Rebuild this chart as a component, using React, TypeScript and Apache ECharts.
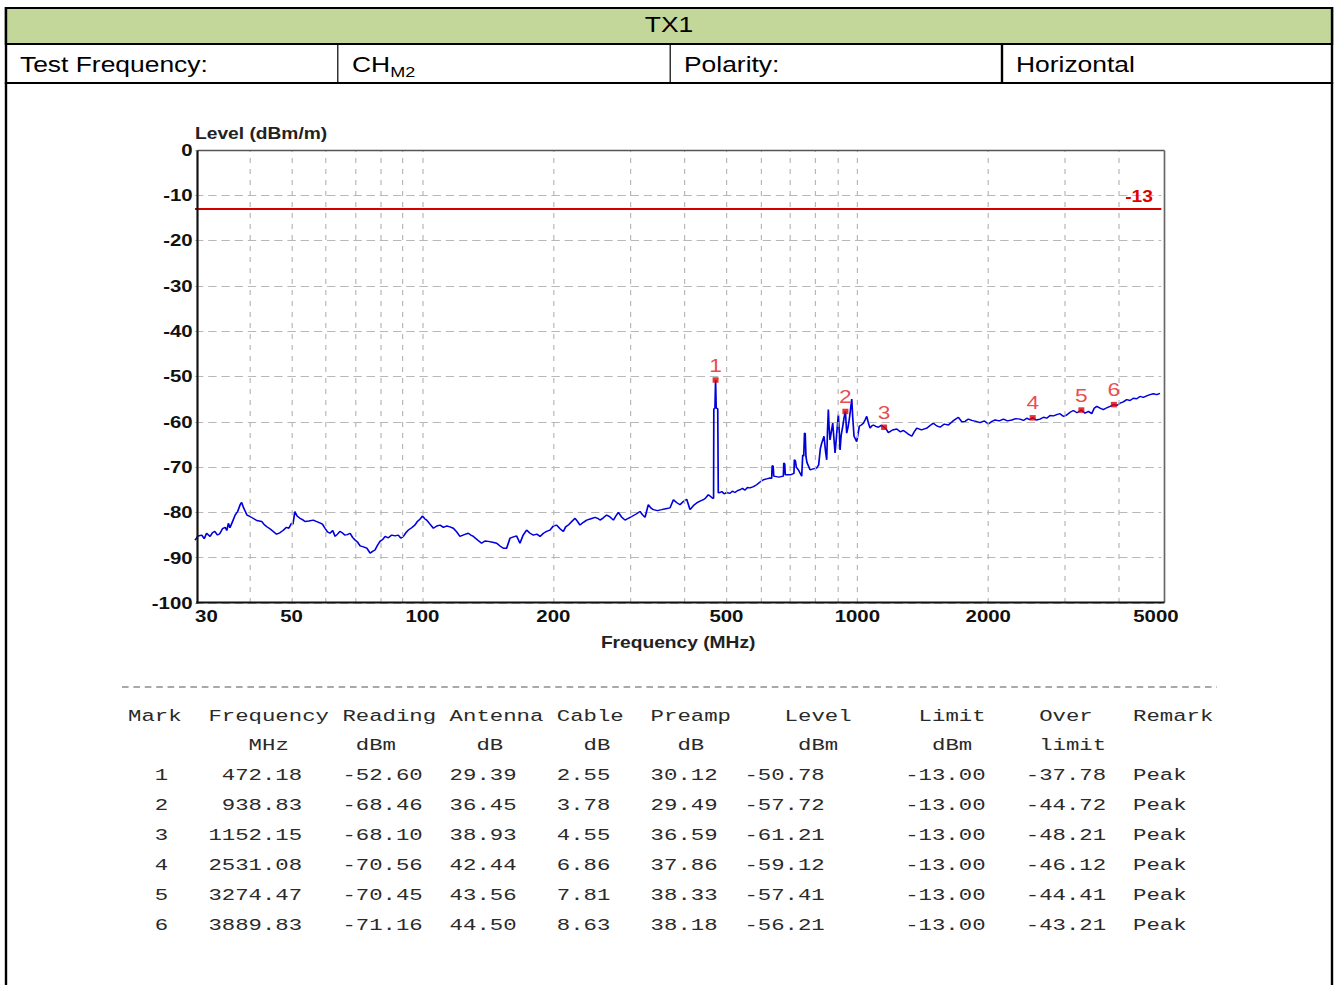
import React, { useEffect, useRef } from 'react';
import * as echarts from 'echarts';

// ---- measurement data -------------------------------------------------------

// Peak-hold sweep, [frequency MHz, level dBm]
const sweep: [number, number][] = [
  [30.0, -86.1], [30.5, -85.2], [31.1, -85.0], [31.5, -85.8], [31.9, -84.6], [32.5, -85.3],
  [32.9, -84.5], [33.3, -84.2], [33.8, -85.0], [34.2, -84.7], [34.7, -83.6], [35.2, -83.3],
  [35.5, -84.0], [35.8, -82.4], [36.1, -83.4], [36.6, -82.0], [37.1, -80.6], [37.6, -79.8],
  [38.1, -78.3], [38.4, -77.8], [38.8, -79.0], [39.5, -80.6], [40.1, -80.9], [40.8, -81.3],
  [41.6, -81.8], [42.7, -82.0], [43.2, -82.6], [43.8, -83.1], [44.6, -83.6], [45.4, -84.2],
  [46.2, -84.8], [47.0, -84.5], [47.8, -84.0], [48.7, -83.3], [49.3, -83.5], [50.0, -82.4],
  [50.4, -82.6], [50.9, -79.8], [51.5, -80.8], [52.3, -81.3], [53.0, -81.6], [53.7, -82.0],
  [54.8, -81.9], [56.1, -81.7], [57.0, -82.0], [58.1, -82.3], [58.9, -82.6], [59.7, -83.5],
  [60.5, -84.3], [61.3, -84.6], [62.2, -84.0], [63.0, -85.3], [63.8, -84.8], [64.6, -84.2],
  [65.4, -84.5], [66.3, -85.0], [67.2, -84.9], [68.2, -84.6], [69.1, -85.5], [70.0, -86.1],
  [71.0, -86.6], [71.9, -87.4], [73.2, -87.6], [74.5, -87.9], [75.1, -88.4], [75.8, -89.0],
  [76.8, -88.6], [77.8, -88.3], [78.9, -87.2], [79.9, -86.4], [81.0, -86.0], [82.1, -85.3],
  [83.5, -85.6], [85.0, -85.0], [86.5, -85.2], [88.0, -85.0], [89.2, -85.7], [90.4, -85.3],
  [91.6, -84.5], [92.8, -83.9], [94.5, -83.4], [96.1, -82.8], [97.4, -82.0], [98.7, -81.5],
  [100.1, -80.8], [101.2, -81.4], [102.3, -81.7], [104.1, -82.6], [106.0, -83.5], [107.9, -83.0],
  [109.8, -82.8], [111.8, -83.3], [113.8, -83.0], [115.7, -83.2], [117.8, -83.5], [119.9, -84.3],
  [122.0, -85.3], [124.8, -84.9], [127.5, -84.6], [129.2, -85.0], [131.0, -85.3], [133.9, -86.1],
  [136.8, -86.8], [139.2, -86.3], [141.7, -86.4], [145.0, -86.6], [148.2, -86.8], [150.8, -87.4],
  [153.5, -87.9], [156.2, -87.9], [159.0, -85.7], [162.0, -85.4], [164.7, -85.2], [167.6, -86.8],
  [170.5, -85.0], [173.6, -83.9], [176.8, -84.6], [180.0, -85.0], [183.2, -84.8], [186.4, -85.3],
  [189.8, -84.6], [193.0, -84.2], [196.5, -83.9], [200.0, -83.0], [203.6, -82.8], [207.2, -83.6],
  [210.9, -84.2], [213.5, -83.2], [216.5, -82.8], [220.5, -82.0], [224.4, -81.3], [227.3, -82.0],
  [230.3, -82.8], [234.5, -82.2], [238.6, -81.7], [244.0, -81.4], [249.5, -81.1], [252.8, -81.3],
  [256.1, -81.7], [260.6, -81.2], [265.3, -80.6], [270.0, -81.0], [274.9, -81.7], [278.5, -80.8],
  [282.2, -80.0], [287.0, -81.0], [292.4, -81.7], [297.5, -81.3], [302.9, -80.9], [309.5, -80.4],
  [316.5, -79.8], [320.5, -80.5], [325.0, -81.1], [330.7, -78.3], [335.0, -79.0], [339.7, -79.4],
  [347.0, -79.6], [355.0, -79.4], [362.5, -79.2], [371.0, -79.0], [377.7, -77.2], [384.0, -77.8],
  [391.1, -78.3], [398.0, -77.6], [405.2, -77.1], [412.4, -79.4], [420.0, -78.5], [427.2, -77.9],
  [434.8, -77.5], [442.6, -77.2], [448.0, -76.8], [454.4, -76.1], [460.0, -76.5], [465.0, -76.9],
  [467.2, -76.9], [467.8, -57.2], [470.6, -57.0], [472.18, -50.78], [473.8, -57.0], [477.6, -57.1],
  [479.0, -75.7], [483.4, -75.6], [487.8, -75.4], [494.0, -75.9], [501.0, -75.6], [509.7, -75.8],
  [516.0, -75.3], [523.0, -75.6], [530.0, -75.2], [537.4, -75.0], [544.5, -74.7], [551.8, -75.1],
  [559.0, -74.5], [566.6, -74.6], [577.0, -74.3], [587.0, -73.9], [597.5, -73.3], [608.2, -72.8],
  [618.8, -72.6], [629.9, -72.4], [635.5, -72.5], [637.0, -69.7], [640.5, -69.8], [642.5, -72.0],
  [660.0, -72.2], [676.0, -72.0], [677.5, -69.1], [681.0, -69.3], [683.0, -71.7], [702.0, -71.7],
  [715.0, -71.4], [716.5, -68.4], [720.5, -68.6], [724.0, -70.0], [731.8, -70.6], [738.4, -71.3],
  [745.0, -72.0], [749.0, -67.3], [753.0, -67.6], [756.0, -62.5], [759.0, -62.6], [762.0, -67.7],
  [766.0, -69.0], [778.6, -70.6], [792.0, -70.4], [806.6, -70.2], [815.0, -69.5], [822.0, -66.0],
  [828.3, -64.7], [838.4, -63.2], [845.0, -66.5], [850.4, -68.4], [854.0, -62.0], [857.8, -57.3],
  [861.0, -61.0], [865.5, -64.0], [878.0, -60.3], [888.9, -66.9], [896.0, -63.0], [904.5, -58.4],
  [908.0, -61.5], [912.6, -66.2], [918.0, -63.0], [925.7, -61.0], [932.0, -59.2], [938.83, -57.72],
  [942.0, -60.0], [945.4, -62.5], [952.0, -61.2], [958.0, -59.6], [964.0, -57.5], [971.0, -55.0],
  [976.0, -59.0], [982.8, -63.2], [990.0, -63.8], [996.9, -64.4], [1004.0, -62.6], [1010.6, -61.0],
  [1021.0, -60.7], [1032.8, -60.3], [1042.0, -59.6], [1051.1, -58.8], [1060.0, -60.2], [1069.8, -61.4],
  [1080.0, -60.9], [1089.0, -60.7], [1103.0, -61.0], [1117.9, -61.2], [1135.0, -60.8], [1152.15, -61.21],
  [1165.0, -61.6], [1178.7, -62.4], [1205.0, -61.8], [1232.1, -61.6], [1255.0, -62.2], [1276.6, -61.9],
  [1305.0, -62.6], [1334.1, -63.2], [1352.0, -62.2], [1369.8, -61.4], [1405.0, -61.8], [1444.3, -61.4],
  [1470.0, -60.8], [1496.4, -60.3], [1522.0, -60.9], [1549.8, -61.2], [1585.0, -60.5], [1619.5, -60.7],
  [1660.0, -59.8], [1707.6, -59.0], [1740.0, -60.0], [1769.4, -59.9], [1800.0, -59.4], [1832.9, -59.7],
  [1875.0, -59.9], [1915.4, -60.2], [1960.0, -59.8], [2001.6, -60.5], [2040.0, -59.9], [2074.1, -59.6],
  [2120.0, -59.8], [2167.7, -59.4], [2215.0, -59.8], [2265.4, -59.6], [2315.0, -59.3], [2367.2, -59.4],
  [2410.0, -59.7], [2452.4, -59.2], [2490.0, -59.5], [2531.08, -59.12], [2580.0, -59.6], [2630.9, -59.4],
  [2680.0, -59.0], [2725.6, -59.2], [2775.0, -58.6], [2824.0, -58.7], [2875.0, -58.4], [2924.3, -58.2],
  [2975.0, -58.8], [3029.6, -58.5], [3085.0, -57.9], [3139.2, -57.5], [3200.0, -58.0], [3274.47, -57.41],
  [3338.9, -58.1], [3400.0, -57.7], [3459.0, -58.2], [3505.0, -57.0], [3551.5, -56.6], [3615.0, -57.0],
  [3679.5, -57.3], [3745.0, -56.9], [3810.9, -56.6], [3889.83, -56.21], [3950.0, -56.4], [4017.9, -55.9],
  [4090.0, -55.6], [4162.5, -55.1], [4236.6, -55.3], [4312.9, -54.8], [4390.0, -54.9], [4466.7, -54.4],
  [4547.0, -54.6], [4627.5, -54.3], [4710.0, -54.0], [4794.5, -53.8], [4880.0, -54.0], [4965.6, -53.7],
];

// Marker list
const markNo = [1, 2, 3, 4, 5, 6];
const markFreq = [472.18, 938.83, 1152.15, 2531.08, 3274.47, 3889.83];
const reading = [-52.6, -68.46, -68.1, -70.56, -70.45, -71.16];
const antenna = [29.39, 36.45, 38.93, 42.44, 43.56, 44.5];
const cable = [2.55, 3.78, 4.55, 6.86, 7.81, 8.63];
const preamp = [30.12, 29.49, 36.59, 37.86, 38.33, 38.18];
const levelDbm = [-50.78, -57.72, -61.21, -59.12, -57.41, -56.21];
const limitDbm = [-13, -13, -13, -13, -13, -13];
const overLimit = [-37.78, -44.72, -48.21, -46.12, -44.41, -43.21];
const remark = ['Peak', 'Peak', 'Peak', 'Peak', 'Peak', 'Peak'];

const LIMIT = -13;

// Axis ticks
const xLabelMHz = [30, 50, 100, 200, 500, 1000, 2000, 5000];
const xGridMHz = [30, 40, 50, 60, 70, 80, 90, 100, 200, 300, 400, 500, 600, 700, 800, 900, 1000, 2000, 3000, 4000, 5000];

// ---- layout helpers -----------------------------------------------------------

// The whole sheet is drawn narrow and widened horizontally by SX.
const SX = 1.2;
const PAGE_W = 1338;
const PAGE_H = 985;
const CHART_TOP = 86;
const px = (x: number) => x / SX;
const py = (y: number) => y - CHART_TOP;

const SANS = '"Liberation Sans", Arial, Helvetica, sans-serif';
const MONO = '"Liberation Mono", "DejaVu Sans Mono", monospace';

// listing: fixed-width character grid
const COL0 = px(128);
const CHAR_W = px(13.4);
const MONO_SIZE = 17;
const LIST_ROWS_Y = [716, 745, 775, 805, 835, 865, 895, 925];

type Cell = [string, number];
const rightAt = (s: string, lastCol: number): Cell => [s, lastCol - s.length + 1];

const headerCells: Cell[] = [
  ['Mark', 0], ['Frequency', 6], ['Reading', 16], ['Antenna', 24], ['Cable', 32],
  ['Preamp', 39], ['Level', 49], ['Limit', 59], ['Over', 68], ['Remark', 75],
];
const unitCells: Cell[] = [
  ['MHz', 9], ['dBm', 17], ['dB', 26], ['dB', 34], ['dB', 41], ['dBm', 50], ['dBm', 60], ['limit', 68],
];
const rowCells = (i: number): Cell[] => [
  [String(markNo[i]), 2],
  rightAt(markFreq[i].toFixed(2), 12),
  [reading[i].toFixed(2), 16],
  [antenna[i].toFixed(2), 24],
  [cable[i].toFixed(2), 32],
  [preamp[i].toFixed(2), 39],
  [levelDbm[i].toFixed(2), 46],
  [limitDbm[i].toFixed(2), 58],
  [overLimit[i].toFixed(2), 67],
  [remark[i], 75],
];

function listingGraphics() {
  const lines: Cell[][] = [headerCells, unitCells, ...markNo.map((_, i) => rowCells(i))];
  const els: any[] = [];
  lines.forEach((cells, r) => {
    cells.forEach(([text, col]) => {
      els.push({
        type: 'text',
        x: COL0 + col * CHAR_W,
        y: py(LIST_ROWS_Y[r]),
        scaleX: CHAR_W / (0.6 * MONO_SIZE),
        silent: true,
        style: {
          text,
          fontFamily: MONO,
          fontSize: MONO_SIZE,
          fill: '#2a2a2a',
          align: 'left',
          verticalAlign: 'middle',
        },
      });
    });
  });
  els.push({
    type: 'line',
    silent: true,
    shape: { x1: px(122), y1: py(687), x2: px(1217), y2: py(687) },
    style: { stroke: '#555', lineWidth: 1, lineDash: [5.5, 4] },
  });
  return els;
}

function frameGraphics() {
  const L = px(197.5), R = px(1164.5), T = py(150.5), B = py(602.5);
  return [
    { type: 'line', silent: true, z: 10, shape: { x1: L, y1: T, x2: R, y2: T }, style: { stroke: '#555', lineWidth: 1.6 } },
    { type: 'line', silent: true, z: 10, shape: { x1: R, y1: T, x2: R, y2: B }, style: { stroke: '#666', lineWidth: 1.4 } },
    { type: 'line', silent: true, z: 10, shape: { x1: L, y1: T, x2: L, y2: B + 1 }, style: { stroke: '#111', lineWidth: 1.8 } },
    { type: 'line', silent: true, z: 10, shape: { x1: L - 1, y1: B, x2: R, y2: B }, style: { stroke: '#111', lineWidth: 2.2 } },
  ];
}

function buildOption(): echarts.EChartsCoreOption {
  const gridLeft = px(195);
  const gridRight = px(1161.3);

  const vLines = xGridMHz.map((f) => {
    const labelled = xLabelMHz.includes(f);
    const edge = f === 30 || f === 5000;
    return {
      xAxis: f,
      lineStyle: edge ? { color: 'rgba(0,0,0,0)' } : undefined,
      label: {
        show: labelled,
        position: 'start',
        distance: 5,
        formatter: String(f),
        fontFamily: SANS,
        fontSize: 17,
        fontWeight: 'bold',
        color: '#111',
        padding: f === 30 ? [0, 0, 0, 19] : f === 5000 ? [0, 9, 0, 0] : 0,
      },
    };
  });

  return {
    animation: false,
    backgroundColor: 'transparent',
    textStyle: { fontFamily: SANS },
    grid: {
      left: gridLeft,
      top: py(150),
      width: gridRight - gridLeft,
      height: 453,
      show: false,
    },
    xAxis: {
      type: 'log',
      logBase: 10,
      min: 30,
      max: 5000,
      name: 'Frequency (MHz)',
      nameLocation: 'middle',
      nameGap: 32,
      nameTextStyle: { fontFamily: SANS, fontSize: 16, fontWeight: 'bold', color: '#222' },
      axisLine: { show: false },
      axisTick: { show: false },
      axisLabel: { show: false },
      splitLine: { show: false },
      minorSplitLine: { show: false },
    },
    yAxis: {
      type: 'value',
      min: -100,
      max: 0,
      interval: 10,
      name: 'Level (dBm/m)',
      nameLocation: 'end',
      nameGap: 6,
      nameTextStyle: {
        fontFamily: SANS,
        fontSize: 16,
        fontWeight: 'bold',
        color: '#222',
        align: 'left',
        verticalAlign: 'bottom',
      },
      axisLine: { show: false },
      axisTick: { show: false },
      axisLabel: {
        fontFamily: SANS,
        fontSize: 17,
        fontWeight: 'bold',
        color: '#111',
        margin: 2,
      },
      splitLine: { show: true, lineStyle: { color: '#b8b8b8', width: 1, type: [7, 4] } },
    },
    series: [
      {
        name: 'grid',
        type: 'line',
        data: [],
        z: 1,
        silent: true,
        markLine: {
          silent: true,
          symbol: ['none', 'none'],
          animation: false,
          lineStyle: { color: '#b8b8b8', width: 1, type: [5, 6] },
          data: vLines,
        },
      },
      {
        name: 'Limit',
        type: 'line',
        data: [],
        z: 3,
        silent: true,
        markLine: {
          silent: true,
          symbol: ['none', 'none'],
          animation: false,
          lineStyle: { color: '#d40000', width: 1.8, type: 'solid' },
          label: {
            show: true,
            position: 'insideEndTop',
            distance: [7, 4],
            formatter: String(LIMIT),
            fontFamily: SANS,
            fontSize: 16,
            fontWeight: 'bold',
            color: '#e00000',
          },
          data: [{ yAxis: LIMIT }],
        },
      },
      {
        name: 'Level',
        type: 'line',
        data: sweep,
        z: 4,
        showSymbol: false,
        symbol: 'none',
        silent: true,
        lineStyle: { color: '#0000dd', width: 1.4 },
      },
      {
        name: 'Marker',
        type: 'scatter',
        z: 5,
        silent: true,
        data: markFreq.map((f, i) => [f, levelDbm[i]]),
        symbol: 'rect',
        symbolSize: [5, 5.5],
        itemStyle: { color: '#e00000' },
        label: {
          show: true,
          position: 'top',
          distance: 3,
          formatter: (p: any) => String(markNo[p.dataIndex]),
          fontFamily: SANS,
          fontSize: 19,
          color: '#e02020',
        },
      },
    ],
    graphic: { elements: [...frameGraphics(), ...listingGraphics()] },
  };
}

// ---- page ---------------------------------------------------------------------

const cellFont: React.CSSProperties = {
  position: 'absolute',
  fontFamily: SANS,
  fontSize: 22,
  color: '#000',
  whiteSpace: 'nowrap',
  lineHeight: '26px',
};

export default function App() {
  const ref = useRef<HTMLDivElement>(null);

  useEffect(() => {
    document.body.style.margin = '0';
    const chart = echarts.init(ref.current as HTMLDivElement, null, { renderer: 'svg' });
    chart.setOption(buildOption());
    return () => chart.dispose();
  }, []);

  const L = px(5);
  const W = px(1333) - px(5);

  return (
    <div
      style={{
        position: 'absolute',
        left: 0,
        top: 0,
        width: px(PAGE_W),
        height: PAGE_H,
        overflow: 'hidden',
        background: '#fff',
        transform: `scaleX(${SX})`,
        transformOrigin: '0 0',
      }}
    >
      {/* outer frame */}
      <div
        style={{
          position: 'absolute',
          left: L,
          top: 7,
          width: W,
          height: 1100,
          border: '2px solid #000',
          boxSizing: 'border-box',
        }}
      />
      {/* title row */}
      <div
        style={{
          position: 'absolute',
          left: L,
          top: 7,
          width: W,
          height: 38,
          background: '#c4d79b',
          border: '2px solid #000',
          boxSizing: 'border-box',
        }}
      />
      <div style={{ ...cellFont, left: L, width: W, top: 12, textAlign: 'center' }}>TX1</div>

      {/* info row */}
      <div style={{ position: 'absolute', left: L, top: 82, width: W, height: 2, background: '#000' }} />
      {[338, 670, 1002].map((x) => (
        <div key={x} style={{ position: 'absolute', left: px(x) - 0.8, top: 44, width: 1.6, height: 39, background: '#000' }} />
      ))}
      <div style={{ ...cellFont, left: px(20), top: 52 }}>Test Frequency:</div>
      <div style={{ ...cellFont, left: px(352), top: 52 }}>
        CH<span style={{ fontSize: 15, position: 'relative', top: 5 }}>M2</span>
      </div>
      <div style={{ ...cellFont, left: px(684), top: 52 }}>Polarity:</div>
      <div style={{ ...cellFont, left: px(1016), top: 52 }}>Horizontal</div>

      {/* plot and marker listing */}
      <div
        ref={ref}
        style={{ position: 'absolute', left: 0, top: CHART_TOP, width: px(PAGE_W), height: PAGE_H - CHART_TOP }}
      />
    </div>
  );
}
